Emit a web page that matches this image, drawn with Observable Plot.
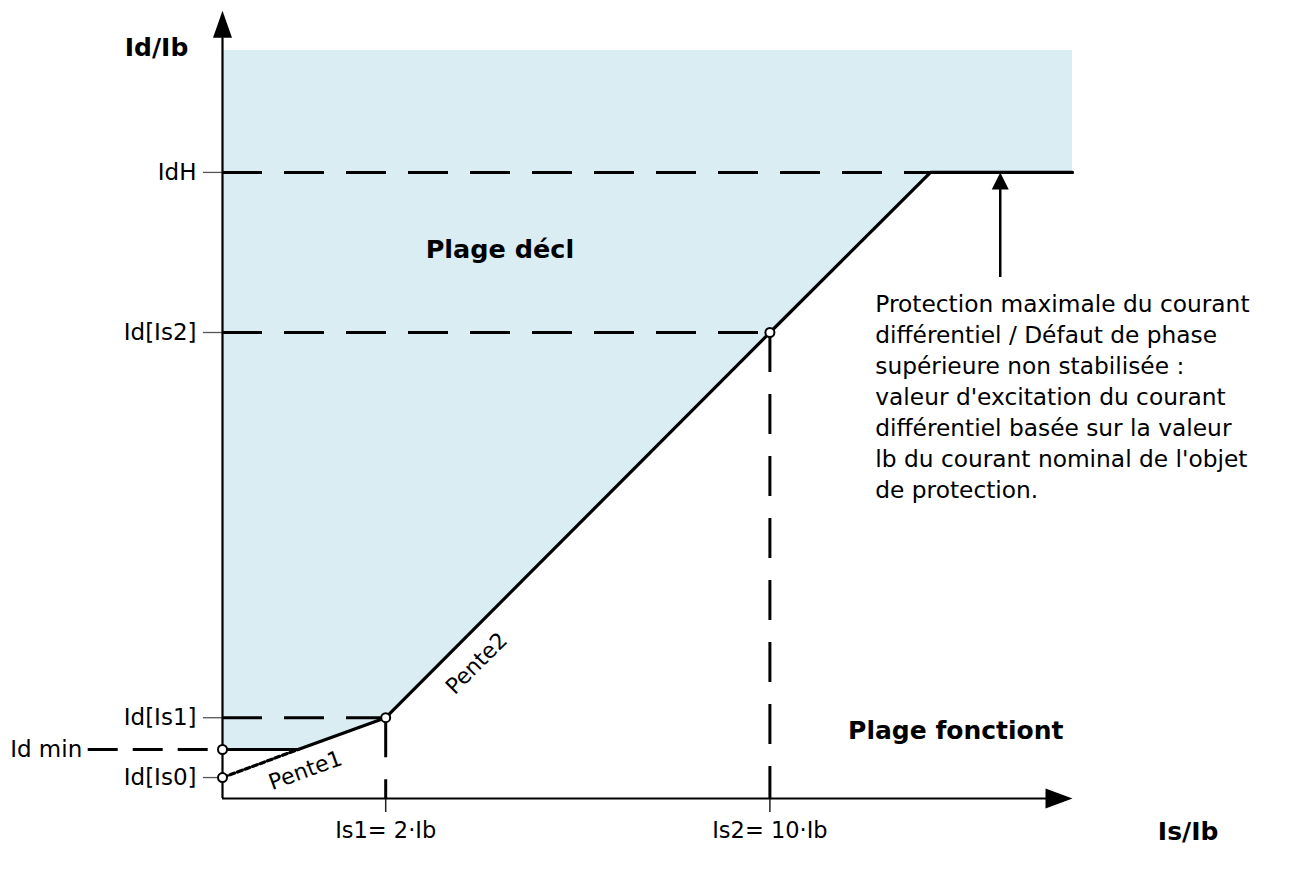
<!DOCTYPE html>
<html>
<head>
<meta charset="utf-8">
<script src="https://cdn.jsdelivr.net/npm/d3@7"></script>
<script src="https://cdn.jsdelivr.net/npm/@observablehq/plot@0.6"></script>
<style>
  html, body { margin: 0; padding: 0; background: #fff; }
  svg { display: block; }
</style>
</head>
<body>
<div id="chart"></div>
<script>
// ---- data (schematic units) ----
const boundaryX = [0, 8.9, 19.2, 64.4, 83.3, 100];
const boundaryY = [6.55, 6.55, 10.8, 62.3, 83.7, 83.7];
const pente1ExtX = [0, 8.9];
const pente1ExtY = [2.8, 6.55];
const yTickLabels = ["Id[Is0]", "Id[Is1]", "Id[Is2]", "IdH"];
const yTickValues = [2.8, 10.8, 62.3, 83.7];
const yTickEndX = [0, 19.2, 64.4, 83.3];
const idMinLabel = "Id min";
const idMinValue = 6.55;
const xTickLabels = ["Is1= 2·Ib", "Is2= 10·Ib"];
const xTickValues = [19.2, 64.4];
const xTickTopY = [10.8, 62.3];
const markerX = [0, 0, 19.2, 64.4];
const markerY = [6.55, 2.8, 10.8, 62.3];
const axisTitles = ["Id/Ib", "Is/Ib"];
const zoneLabels = ["Plage décl", "Plage fonctiont"];
const slopeLabels = ["Pente1", "Pente2"];
const noteLines = [
  "Protection maximale du courant",
  "différentiel / Défaut de phase",
  "supérieure non stabilisée :",
  "valeur d'excitation du courant",
  "différentiel basée sur la valeur",
  "lb du courant nominal de l'objet",
  "de protection."
];
const noteX = 91.5;

// ---- build tables ----
const boundary = boundaryX.map((x, i) => ({x, y: boundaryY[i]}));
const pente1Ext = pente1ExtX.map((x, i) => ({x, y: pente1ExtY[i]}));
const yTicks = yTickLabels.map((label, i) => ({label, y: yTickValues[i], xEnd: yTickEndX[i]}));
const xTicks = xTickLabels.map((label, i) => ({label, x: xTickValues[i], yTop: xTickTopY[i]}));
const markers = markerX.map((x, i) => ({x, y: markerY[i]}));

const FONT = "DejaVu Sans";

const arrowUp = {draw(ctx) { ctx.moveTo(0, 0); ctx.lineTo(-9.5, 27); ctx.lineTo(9.5, 27); ctx.closePath(); }};
const arrowRight = {draw(ctx) { ctx.moveTo(0, 0); ctx.lineTo(-27, -10); ctx.lineTo(-27, 10); ctx.closePath(); }};
const arrowSmall = {draw(ctx) { ctx.moveTo(0, 0); ctx.lineTo(-8.5, 17); ctx.lineTo(8.5, 17); ctx.closePath(); }};

const dash = "40,22";

const chart = Plot.plot({
  width: 1301,
  height: 873,
  marginLeft: 222,
  marginRight: 229,
  marginTop: 50,
  marginBottom: 75,
  x: {domain: [0, 100], axis: null},
  y: {domain: [0, 100], axis: null},
  style: {fontFamily: FONT, background: "#fff", overflow: "visible"},
  marks: [
    // shaded trip zone
    Plot.areaY(boundary, {x: "x", y1: "y", y2: 100, fill: "#daedf3", curve: "linear"}),
    // dashed reference lines
    Plot.ruleY(yTicks.filter(d => d.xEnd > 0), {y: "y", x1: 0, x2: "xEnd", stroke: "#000", strokeWidth: 3, strokeDasharray: dash}),
    Plot.ruleY([idMinValue], {y: d => d, x1: -15.8, x2: 0, stroke: "#000", strokeWidth: 3, strokeDasharray: "30,15"}),
    Plot.ruleX(xTicks, {x: "x", y1: "yTop", y2: 0, stroke: "#000", strokeWidth: 3, strokeDasharray: dash}),
    // ticks
    Plot.ruleY(yTicks, {y: "y", x1: -2.24, x2: 0, stroke: "#555", strokeWidth: 1.3}),
    Plot.ruleX(xTicks, {x: "x", y1: 0, y2: -1.87, stroke: "#222", strokeWidth: 1.5}),
    // axes
    Plot.ruleX([0], {x: d => d, y1: 0, y2: 101.7, stroke: "#000", strokeWidth: 2.2}),
    Plot.ruleY([0], {y: d => d, x1: 0, x2: 97, stroke: "#000", strokeWidth: 2.2}),
    Plot.dot([{x: 0, y: 105.3}], {x: "x", y: "y", symbol: arrowUp, fill: "#000", stroke: "none"}),
    Plot.dot([{x: 100, y: 0}], {x: "x", y: "y", symbol: arrowRight, fill: "#000", stroke: "none"}),
    // boundary
    Plot.line(pente1Ext, {x: "x", y: "y", stroke: "#000", strokeWidth: 3.2, strokeDasharray: "5,3"}),
    Plot.line(boundary, {x: "x", y: "y", stroke: "#000", strokeWidth: 3.2}),
    // annotation arrow
    Plot.ruleX([noteX], {x: d => d, y1: 69.65, y2: 81.4, stroke: "#000", strokeWidth: 2.5}),
    Plot.dot([{x: noteX, y: 83.7}], {x: "x", y: "y", symbol: arrowSmall, fill: "#000", stroke: "none"}),
    // markers
    Plot.dot(markers, {x: "x", y: "y", r: 4.5, fill: "#fff", stroke: "#000", strokeWidth: 2}),
    // texts
    Plot.text(yTicks, {x: -3.06, y: "y", text: "label", textAnchor: "end", fontSize: 23, fill: "#000", fontFamily: FONT}),
    Plot.text([idMinLabel], {x: -16.5, y: idMinValue, text: d => d, textAnchor: "end", fontSize: 23, fill: "#000", fontFamily: FONT}),
    Plot.text(xTicks, {x: "x", y: -4.28, text: "label", fontSize: 22.5, fill: "#000", fontFamily: FONT}),
    Plot.text([axisTitles[0]], {x: -7.76, y: 100.4, text: d => d, fontSize: 25, fontWeight: "bold", fill: "#000", fontFamily: FONT}),
    Plot.text([axisTitles[1]], {x: 113.6, y: -4.5, text: d => d, fontSize: 25, fontWeight: "bold", fill: "#000", fontFamily: FONT}),
    Plot.text([zoneLabels[0]], {x: 23.9, y: 73.3, text: d => d, textAnchor: "start", fontSize: 25.5, fontWeight: "bold", fill: "#000", fontFamily: FONT}),
    Plot.text([zoneLabels[1]], {x: 73.6, y: 8.96, text: d => d, textAnchor: "start", fontSize: 25, fontWeight: "bold", fill: "#000", fontFamily: FONT}),
    Plot.text([slopeLabels[0]], {x: 9.76, y: 3.74, text: d => d, rotate: -20, fontSize: 22, fill: "#000", fontFamily: FONT}),
    Plot.text([slopeLabels[1]], {x: 29.9, y: 18.05, text: d => d, rotate: -45, fontSize: 22, fill: "#000", fontFamily: FONT}),
    Plot.text([noteLines.join("\n")], {x: 76.8, y: 53.9, text: d => d, textAnchor: "start", lineAnchor: "middle", lineHeight: 1.33, fontSize: 23.3, fill: "#000", fontFamily: FONT, style: "word-spacing: 1.5px"})
  ]
});
document.getElementById("chart").appendChild(chart);
</script>
</body>
</html>
